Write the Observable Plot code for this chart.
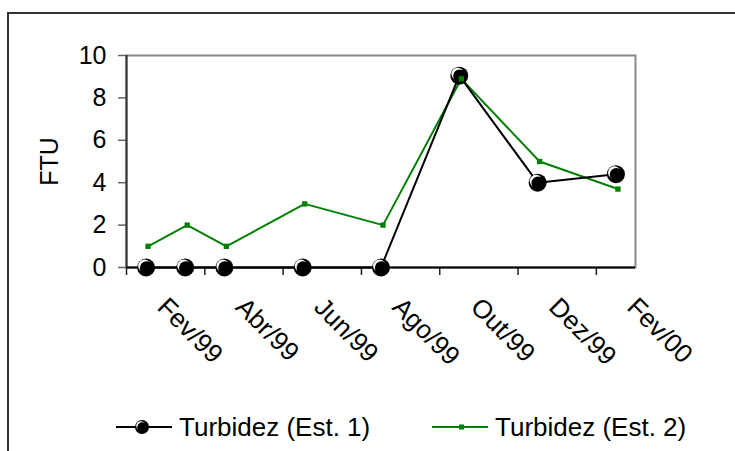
<!DOCTYPE html>
<html><head><meta charset="utf-8">
<script src="https://cdn.jsdelivr.net/npm/d3@7"></script>
<script src="https://cdn.jsdelivr.net/npm/@observablehq/plot@0.6"></script>
<style>
html,body{margin:0;padding:0;background:#fff}
body{width:735px;height:451px;overflow:hidden;position:relative;font-family:"Liberation Sans",Arial,sans-serif}
#frame{position:absolute;left:7px;top:12px;width:800px;height:500px;border-left:2px solid #333;border-top:2px solid #333;box-sizing:border-box}
#chart{position:absolute;left:0;top:0}
.item{position:absolute;top:412px;display:flex;align-items:flex-start;font-size:26px;line-height:30px;color:#000;white-space:nowrap}
.item svg{display:block;margin-right:7px}
</style>
</head><body>
<div id="frame"></div>
<div id="chart"></div>
<div id="legend"></div>
<script>
const months = ["Fev/99","Mar/99","Abr/99","Mai/99","Jun/99","Jul/99","Ago/99","Set/99","Out/99","Nov/99","Dez/99","Jan/00","Fev/00"];
const tickLabels = ["Fev/99","Abr/99","Jun/99","Ago/99","Out/99","Dez/99","Fev/00"];
const sampleMonths = ["Fev/99","Mar/99","Abr/99","Jun/99","Ago/99","Out/99","Dez/99","Fev/00"];
const est1 = [0, 0, 0, 0, 0, 9.05, 4.0, 4.4];
const est2 = [1.0, 2.0, 1.0, 3.0, 2.0, 8.9, 5.0, 3.7];
const yTicks = [0, 2, 4, 6, 8, 10];
const seriesNames = ["Turbidez (Est. 1)", "Turbidez (Est. 2)"];

const pos = m => months.indexOf(m) + 0.5;
const d1 = sampleMonths.map((m, i) => ({m, v: est1[i]}));
const d2 = sampleMonths.map((m, i) => ({m, v: est2[i]}));
const boundaries = d3.range(0, months.length, 2);
const font = '"Liberation Sans", Arial, sans-serif';

const chart = Plot.plot({
  width: 735, height: 395,
  marginLeft: 126, marginRight: 100, marginTop: 55, marginBottom: 128,
  style: {fontFamily: font, fontSize: "25px", color: "#000", background: "transparent"},
  x: {type: "linear", domain: [0, months.length]},
  y: {domain: [0, 10]},
  marks: [
    Plot.frame({stroke: "#888", strokeWidth: 2}),
    Plot.axisY({ticks: yTicks, tickSize: 8, tickPadding: 12, stroke: "#666", strokeWidth: 1.5,
      fontSize: 25, label: "FTU", labelAnchor: "center", labelArrow: "none", labelOffset: 86}),
    Plot.axisX({ticks: boundaries, tickSize: 8, tickFormat: () => "", stroke: "#222", strokeWidth: 1.5, label: null}),
    Plot.ruleX([0], {stroke: "#333", strokeWidth: 2}),
    Plot.ruleY([0], {stroke: "#000", strokeWidth: 2}),
    Plot.text(tickLabels, {x: pos, frameAnchor: "bottom", rotate: 45, textAnchor: "start", lineAnchor: "top",
      dx: 23, dy: 28, fontSize: 26, fill: "#000"}),
    Plot.line(d2, {x: d => pos(d.m), y: "v", stroke: "#008000", strokeWidth: 2, dx: 2}),
    Plot.line(d1, {x: d => pos(d.m), y: "v", stroke: "#000", strokeWidth: 2}),
    Plot.dot(d1, {x: d => pos(d.m), y: "v", r: 9, fill: "#000"}),
    Plot.dot(d1, {x: d => pos(d.m), y: "v", r: 6.3, fill: "#fff", dx: -1.6, dy: -1.6}),
    Plot.dot(d1, {x: d => pos(d.m), y: "v", r: 6.6, fill: "#000", dx: 0.4, dy: 0.4}),
    Plot.dot(d2, {x: d => pos(d.m), y: "v", symbol: "square", r: 3, fill: "#008000", dx: 2})
  ]
});
document.getElementById("chart").appendChild(chart);

// legend
const legend = document.getElementById("legend");
const lefts = [116, 432];
seriesNames.forEach((name, i) => {
  const div = document.createElement("div");
  div.className = "item";
  div.style.left = lefts[i] + "px";
  const ns = "http://www.w3.org/2000/svg";
  const svg = document.createElementNS(ns, "svg");
  svg.setAttribute("width", 56); svg.setAttribute("height", 30);
  const line = document.createElementNS(ns, "line");
  line.setAttribute("x1", 0); line.setAttribute("x2", 56);
  line.setAttribute("y1", 15); line.setAttribute("y2", 15);
  line.setAttribute("stroke", i === 0 ? "#000" : "#008000");
  line.setAttribute("stroke-width", 2);
  svg.appendChild(line);
  if (i === 0) {
    [[26, 15, 7, "#000"], [24.8, 13.8, 4.6, "#fff"], [26.3, 15.3, 5, "#000"]].forEach(([cx, cy, r, f]) => {
      const c = document.createElementNS(ns, "circle");
      c.setAttribute("cx", cx); c.setAttribute("cy", cy); c.setAttribute("r", r); c.setAttribute("fill", f);
      svg.appendChild(c);
    });
  } else {
    const s = document.createElementNS(ns, "rect");
    s.setAttribute("x", 27); s.setAttribute("y", 12.5); s.setAttribute("width", 5); s.setAttribute("height", 5);
    s.setAttribute("fill", "#008000");
    svg.appendChild(s);
  }
  div.appendChild(svg);
  const span = document.createElement("span");
  span.textContent = name;
  div.appendChild(span);
  legend.appendChild(div);
});
</script>
</body></html>
